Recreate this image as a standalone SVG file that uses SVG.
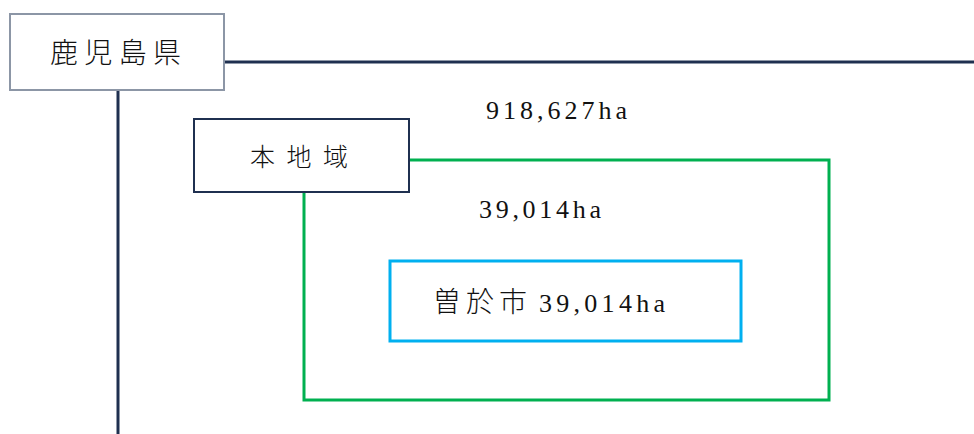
<svg xmlns="http://www.w3.org/2000/svg" width="974" height="434" viewBox="0 0 974 434">
<style>
.t{font-family:"Liberation Serif","Noto Sans CJK JP",serif;fill:#111;}
.cjk{font-family:"Noto Sans CJK JP","Liberation Serif",sans-serif;font-weight:300;fill:#111;}
.navy{stroke:#1f3050;stroke-width:3;fill:none;}
</style>
<rect width="974" height="434" fill="#fff"/>
<g id="connectors">
<line class="navy" x1="224" y1="62" x2="974" y2="62"/>
<line class="navy" x1="118" y1="90" x2="118" y2="434"/>
</g>
<g id="region-green">
<rect x="304" y="160" width="525" height="240" fill="none" stroke="#00b050" stroke-width="3"/>
</g>
<g id="kagoshima">
<rect x="10" y="14" width="214" height="76" fill="#fff" stroke="#8c96a6" stroke-width="2"/>
<text class="cjk" x="50" y="63" font-size="28" textLength="131" lengthAdjust="spacing">鹿児島県</text>
</g>
<g id="honchiiki">
<rect x="194" y="119" width="215" height="73" fill="#fff" stroke="#1f3050" stroke-width="2"/>
<text class="cjk" x="250" y="166" font-size="25" textLength="98" lengthAdjust="spacing">本地域</text>
</g>
<g id="area-pref">
<text class="t" x="486" y="119" font-size="26" textLength="141" lengthAdjust="spacing">918,627ha</text>
</g>
<g id="area-region">
<text class="t" x="479" y="218" font-size="26" textLength="122" lengthAdjust="spacing">39,014ha</text>
</g>
<g id="soo">
<rect x="390" y="261" width="351" height="80" fill="#fff" stroke="#00b0f0" stroke-width="3"/>
<text x="433" y="312" font-size="28"><tspan class="cjk" textLength="94" lengthAdjust="spacing">曽於市</tspan><tspan class="t" x="539" font-size="26" textLength="126" lengthAdjust="spacing">39,014ha</tspan></text>
</g>
</svg>
